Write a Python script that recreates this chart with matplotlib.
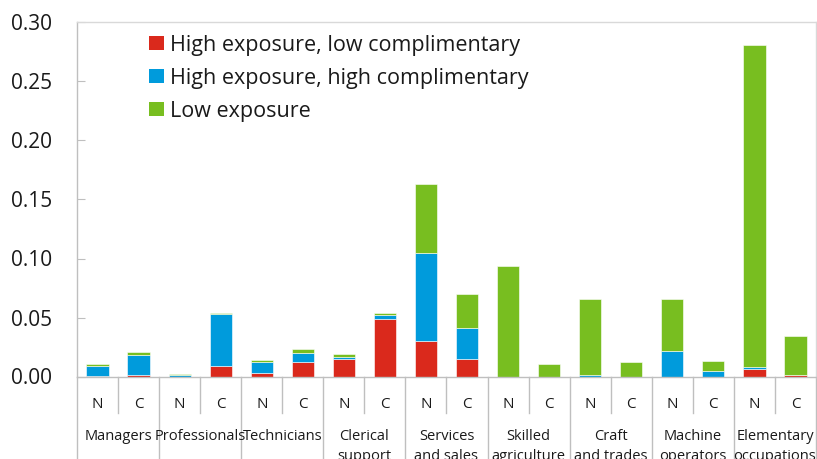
import matplotlib
matplotlib.use("Agg")
import matplotlib.pyplot as plt
from matplotlib.patches import Patch
import matplotlib.transforms as mtransforms

plt.rcParams['font.family'] = ['Open Sans', 'DejaVu Sans']

groups = ["Managers", "Professionals", "Technicians", "Clerical\nsupport",
          "Services\nand sales", "Skilled\nagriculture", "Craft\nand trades",
          "Machine\noperators", "Elementary\noccupations"]
sub_labels = ["N", "C"]

# order: for each group N then C
high_low = [0.0003, 0.0010, 0.0000, 0.0093, 0.0030, 0.0125, 0.0150, 0.0490,
            0.0300, 0.0150, 0.0000, 0.0000, 0.0000, 0.0000, 0.0000, 0.0000,
            0.0062, 0.0015]
high_high = [0.0085, 0.0175, 0.0015, 0.0437, 0.0090, 0.0078, 0.0017, 0.0030,
             0.0748, 0.0257, 0.0000, 0.0000, 0.0015, 0.0000, 0.0220, 0.0050,
             0.0017, 0.0000]
low_exp = [0.0022, 0.0025, 0.0008, 0.0010, 0.0020, 0.0034, 0.0023, 0.0022,
           0.0584, 0.0288, 0.0934, 0.0102, 0.0640, 0.0119, 0.0435, 0.0083,
           0.2733, 0.0325]
series_names = ["High exposure, low complimentary",
                "High exposure, high complimentary",
                "Low exposure"]
colors = ["#DA291C", "#009BDC", "#78BE20"]

fig = plt.figure(figsize=(8.17, 4.59), dpi=100)
ax = fig.add_axes([77/817, 1 - 376.5/459, (816 - 77)/817, (376.5 - 22.5)/459])

n = len(high_low)
x = list(range(n))
w = 0.54
bottom = [0.0] * n
for vals, c, name in zip([high_low, high_high, low_exp], colors, series_names):
    ax.bar(x, vals, w, bottom=bottom, color=c, edgecolor='white', linewidth=0.4, label=name, zorder=2)
    bottom = [b + v for b, v in zip(bottom, vals)]

ax.set_xlim(-0.5, n - 0.5)
ax.set_ylim(0, 0.30)
ax.set_yticks([0, 0.05, 0.10, 0.15, 0.20, 0.25, 0.30])
ax.set_yticklabels([f"{v:.2f}" for v in [0, 0.05, 0.10, 0.15, 0.20, 0.25, 0.30]])
ax.tick_params(axis='y', direction='in', length=6, width=0.8, color='#bfbfbf',
               labelsize=15, pad=18, labelcolor='#1a1a1a')
ax.set_xticks([])

for s in ['top', 'right']:
    ax.spines[s].set_color('#d9d9d9')
    ax.spines[s].set_linewidth(1.0)
for s in ['left', 'bottom']:
    ax.spines[s].set_color('#bfbfbf')
    ax.spines[s].set_linewidth(1.0)

trans = mtransforms.blended_transform_factory(ax.transData, ax.transAxes)
ax_h_px = (376.5 - 22.5)
# separators
for i in range(n + 1):
    xb = i - 0.5
    if i % 2 == 0:
        y1 = -82.5 / ax_h_px
    else:
        y1 = -36.5 / ax_h_px
    ax.plot([xb, xb], [0, y1], transform=trans, color='#bfbfbf', lw=1.0, clip_on=False)

for i in range(n):
    ax.text(i, -28.5 / ax_h_px, sub_labels[i % 2], transform=trans, ha='center', va='center',
            fontsize=11, color='#1a1a1a')

for g, name in enumerate(groups):
    ax.text(2 * g + 0.5, -53 / ax_h_px, name, transform=trans, ha='center', va='top',
            fontsize=10.5, color='#1a1a1a', linespacing=1.4)

handles = [Patch(facecolor=c, edgecolor='none') for c in colors]
leg = ax.legend(handles, series_names, loc='upper left', bbox_to_anchor=(72/739, 0.966),
                frameon=False, fontsize=15.5, handlelength=0.68, handleheight=0.68,
                handletextpad=0.3, labelspacing=0.56, borderaxespad=0, borderpad=0)
for t in leg.get_texts():
    t.set_color('#1a1a1a')

fig.savefig("out.png", dpi=100)
